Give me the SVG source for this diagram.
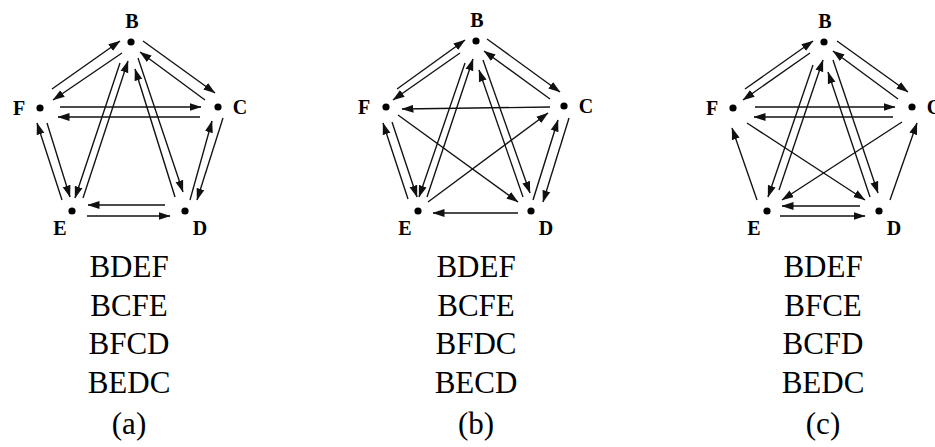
<svg xmlns="http://www.w3.org/2000/svg" width="935" height="447" viewBox="0 0 935 447">
  <style>
    .bg { fill: #ffffff; }
    .dot { fill: #000000; }
    .lbl { font-family: "Liberation Serif", "Times New Roman", serif; font-weight: bold; font-size: 20px; text-anchor: middle; fill: #000; }
    .edge line { stroke: #111; stroke-width: 1.35; marker-end: url(#head); }
    .seq { font-family: "Liberation Serif", "Times New Roman", serif; font-size: 31px; text-anchor: middle; fill: #000; }
  </style>
  <defs>
    <marker id="head" markerUnits="userSpaceOnUse" markerWidth="12" markerHeight="9" refX="11.5" refY="4.5" orient="auto">
      <path d="M0,0.5 L12,4.5 L0,8.5 Z" fill="#111"/>
    </marker>
  </defs>
  <rect class="bg" x="0" y="0" width="935" height="447"/>

  <!-- ===== Graph (a) ===== -->
  <g id="a-edges" class="edge">
    <line x1="52" y1="89" x2="120" y2="41"/>
    <line x1="122" y1="53" x2="53" y2="100"/>
    <line x1="143" y1="41" x2="215" y2="93"/>
    <line x1="205" y1="100" x2="140" y2="52"/>
    <line x1="60" y1="107" x2="201" y2="107"/>
    <line x1="200" y1="117" x2="58" y2="117"/>
    <line x1="120" y1="63" x2="75" y2="198"/>
    <line x1="83" y1="198" x2="128" y2="61"/>
    <line x1="175" y1="197" x2="135" y2="69"/>
    <line x1="138" y1="58" x2="183" y2="192"/>
    <line x1="190" y1="200" x2="212" y2="121"/>
    <line x1="223" y1="118" x2="197" y2="200"/>
    <line x1="62" y1="200" x2="37" y2="123"/>
    <line x1="47" y1="123" x2="70" y2="197"/>
    <line x1="165" y1="205" x2="88" y2="205"/>
    <line x1="87" y1="216" x2="170" y2="216"/>
  </g>
  <g id="a-B"><circle class="dot" cx="131" cy="42" r="3.6"/><text class="lbl" x="132" y="28">B</text></g>
  <g id="a-C"><circle class="dot" cx="218" cy="107" r="3.6"/><text class="lbl" x="240" y="114">C</text></g>
  <g id="a-D"><circle class="dot" cx="185" cy="211" r="3.6"/><text class="lbl" x="200" y="235">D</text></g>
  <g id="a-E"><circle class="dot" cx="72" cy="211" r="3.6"/><text class="lbl" x="60" y="235">E</text></g>
  <g id="a-F"><circle class="dot" cx="40" cy="108" r="3.6"/><text class="lbl" x="19" y="115">F</text></g>

  <!-- ===== Graph (b) ===== -->
  <g id="b-edges" class="edge">
    <line x1="397" y1="89" x2="465" y2="40"/>
    <line x1="460" y1="53" x2="393" y2="100"/>
    <line x1="487" y1="39" x2="560" y2="92"/>
    <line x1="550" y1="99" x2="484" y2="51"/>
    <line x1="550" y1="107" x2="402" y2="109"/>
    <line x1="465" y1="63" x2="419" y2="197"/>
    <line x1="427" y1="197" x2="473" y2="59"/>
    <line x1="523" y1="197" x2="479" y2="70"/>
    <line x1="483" y1="60" x2="530" y2="193"/>
    <line x1="533" y1="200" x2="558" y2="120"/>
    <line x1="569" y1="118" x2="543" y2="202"/>
    <line x1="408" y1="199" x2="383" y2="123"/>
    <line x1="392" y1="122" x2="417" y2="197"/>
    <line x1="518" y1="213" x2="433" y2="213"/>
    <line x1="398" y1="115" x2="518" y2="202"/>
    <line x1="428" y1="202" x2="548" y2="113"/>
  </g>
  <g id="b-B"><circle class="dot" cx="476" cy="41" r="3.6"/><text class="lbl" x="477" y="27">B</text></g>
  <g id="b-C"><circle class="dot" cx="564" cy="106" r="3.6"/><text class="lbl" x="586" y="113">C</text></g>
  <g id="b-D"><circle class="dot" cx="531" cy="211" r="3.6"/><text class="lbl" x="546" y="235">D</text></g>
  <g id="b-E"><circle class="dot" cx="418" cy="211" r="3.6"/><text class="lbl" x="405" y="235">E</text></g>
  <g id="b-F"><circle class="dot" cx="386" cy="107" r="3.6"/><text class="lbl" x="364" y="114">F</text></g>

  <!-- ===== Graph (c) ===== -->
  <g id="c-edges" class="edge">
    <line x1="745" y1="89" x2="813" y2="41"/>
    <line x1="810" y1="53" x2="743" y2="100"/>
    <line x1="837" y1="41" x2="908" y2="92"/>
    <line x1="898" y1="99" x2="833" y2="51"/>
    <line x1="755" y1="107" x2="895" y2="107"/>
    <line x1="893" y1="117" x2="754" y2="117"/>
    <line x1="813" y1="65" x2="768" y2="197"/>
    <line x1="779" y1="190" x2="823" y2="60"/>
    <line x1="870" y1="197" x2="828" y2="72"/>
    <line x1="833" y1="60" x2="878" y2="193"/>
    <line x1="890" y1="200" x2="917" y2="123"/>
    <line x1="757" y1="200" x2="732" y2="128"/>
    <line x1="860" y1="206" x2="782" y2="206"/>
    <line x1="780" y1="216" x2="865" y2="216"/>
    <line x1="747" y1="123" x2="865" y2="200"/>
    <line x1="902" y1="122" x2="782" y2="200"/>
  </g>
  <g id="c-B"><circle class="dot" cx="824" cy="42" r="3.6"/><text class="lbl" x="825" y="28">B</text></g>
  <g id="c-C"><circle class="dot" cx="912" cy="107" r="3.6"/><text class="lbl" x="934" y="114">C</text></g>
  <g id="c-D"><circle class="dot" cx="879" cy="211" r="3.6"/><text class="lbl" x="894" y="235">D</text></g>
  <g id="c-E"><circle class="dot" cx="767" cy="211" r="3.6"/><text class="lbl" x="754" y="235">E</text></g>
  <g id="c-F"><circle class="dot" cx="733" cy="108" r="3.6"/><text class="lbl" x="712" y="115">F</text></g>

  <!-- ===== Cycle lists and captions ===== -->
  <g id="a-list">
    <text class="seq" x="129" y="277">BDEF</text>
    <text class="seq" x="129" y="315.5">BCFE</text>
    <text class="seq" x="129" y="354">BFCD</text>
    <text class="seq" x="129" y="392.5">BEDC</text>
    <text class="seq" x="129" y="434">(a)</text>
  </g>
  <g id="b-list">
    <text class="seq" x="476" y="277">BDEF</text>
    <text class="seq" x="476" y="315.5">BCFE</text>
    <text class="seq" x="476" y="354">BFDC</text>
    <text class="seq" x="476" y="392.5">BECD</text>
    <text class="seq" x="476" y="434">(b)</text>
  </g>
  <g id="c-list">
    <text class="seq" x="823" y="277">BDEF</text>
    <text class="seq" x="823" y="315.5">BFCE</text>
    <text class="seq" x="823" y="354">BCFD</text>
    <text class="seq" x="823" y="392.5">BEDC</text>
    <text class="seq" x="823" y="434">(c)</text>
  </g>
</svg>
